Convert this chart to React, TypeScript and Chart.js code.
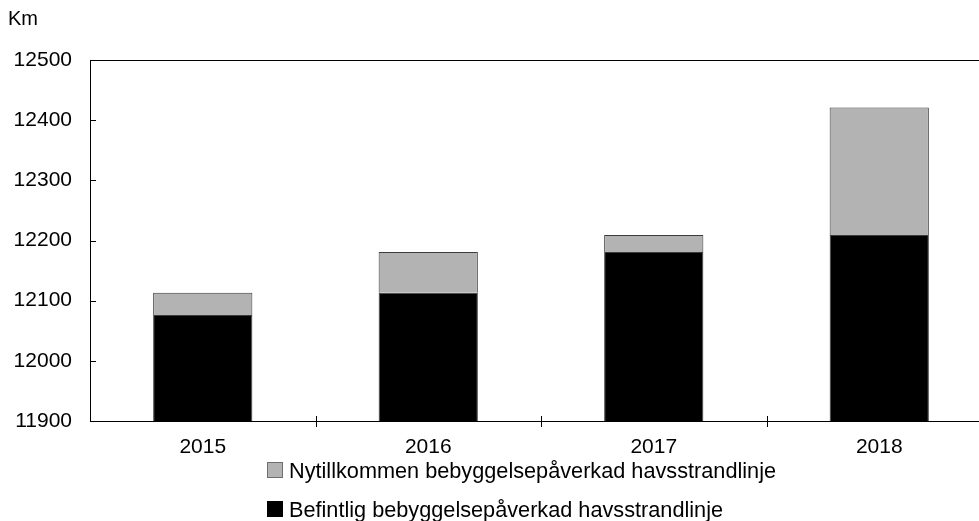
import React, { useEffect, useRef } from "react";
import { Chart, registerables } from "chart.js";

Chart.register(...registerables);

const years = ["2015", "2016", "2017", "2018"];
const befintlig = [12076, 12113, 12181, 12209];
const nytillkommen = [37, 68, 28, 212];
const seriesNames = [
  "Nytillkommen bebyggelsepåverkad havsstrandlinje",
  "Befintlig bebyggelsepåverkad havsstrandlinje",
];
const yMin = 11900;
const yMax = 12500;
const yStep = 100;
const unitLabel = "Km";

const FONT = "'Liberation Sans', Arial, sans-serif";
const FS = 21;

const decorPlugin = {
  id: "decor",
  afterDraw(chart: any) {
    const ctx = chart.ctx;
    const area = chart.chartArea;
    const ys = chart.scales.y;
    const xs = chart.scales.x;
    ctx.save();
    ctx.strokeStyle = "#000";
    ctx.lineWidth = 1;
    // top frame line
    ctx.beginPath();
    ctx.moveTo(area.left, Math.round(area.top) + 0.5);
    ctx.lineTo(area.right, Math.round(area.top) + 0.5);
    ctx.stroke();
    // y ticks inward
    ys.ticks.forEach((t: any) => {
      const y = Math.round(ys.getPixelForValue(t.value)) + 0.5;
      ctx.beginPath();
      ctx.moveTo(area.left, y);
      ctx.lineTo(area.left + 6, y);
      ctx.stroke();
    });
    // x ticks crossing at category boundaries
    const n = xs.ticks.length;
    for (let i = 1; i < n; i++) {
      const x = Math.round((xs.getPixelForTick(i - 1) + xs.getPixelForTick(i)) / 2) + 0.5;
      ctx.beginPath();
      ctx.moveTo(x, area.bottom - 5);
      ctx.lineTo(x, area.bottom + 6);
      ctx.stroke();
    }
    // unit label
    ctx.fillStyle = "#000";
    ctx.font = `20px ${FONT}`;
    ctx.textBaseline = "middle";
    ctx.textAlign = "left";
    ctx.fillText(unitLabel, 8, 19);
    // legend
    const items = [
      { text: seriesNames[0], fill: "#b3b3b3", stroke: "#6e6e6e" },
      { text: seriesNames[1], fill: "#000", stroke: "#000" },
    ];
    const lx = 267;
    const rows = [470, 509];
    ctx.font = `21.7px ${FONT}`;
    items.forEach((it, i) => {
      const cy = rows[i];
      ctx.fillStyle = it.fill;
      ctx.fillRect(lx, cy - 8, 16, 16);
      ctx.strokeStyle = it.stroke;
      ctx.strokeRect(lx + 0.5, cy - 7.5, 15, 15);
      ctx.fillStyle = "#000";
      ctx.fillText(it.text, lx + 22, cy + 2);
    });
    ctx.restore();
  },
};

export default function App() {
  const ref = useRef<HTMLCanvasElement>(null);
  useEffect(() => {
    if (!ref.current) return;
    const chart = new Chart(ref.current, {
      type: "bar",
      data: {
        labels: years,
        datasets: [
          {
            label: seriesNames[1],
            data: befintlig,
            backgroundColor: "#000000",
            borderColor: "#3c3c3c",
            borderWidth: 1,
            barPercentage: 0.44,
            categoryPercentage: 1,
          },
          {
            label: seriesNames[0],
            data: nytillkommen,
            backgroundColor: "#b3b3b3",
            borderColor: "#3c3c3c",
            borderWidth: 1,
            barPercentage: 0.44,
            categoryPercentage: 1,
          },
        ],
      },
      options: {
        responsive: false,
        animation: false,
        devicePixelRatio: 1,
        layout: { padding: { top: 60, left: 0, right: 0, bottom: 0 } },
        plugins: {
          legend: { display: false },
          tooltip: { enabled: false },
        },
        scales: {
          x: {
            stacked: true,
            grid: { display: false, drawTicks: false },
            border: { display: true, color: "#000", width: 1 },
            ticks: {
              color: "#000",
              font: { family: FONT, size: FS },
              padding: 14,
              maxRotation: 0,
            },
            afterFit(scale: any) {
              scale.height = 100;
            },
          },
          y: {
            stacked: true,
            min: yMin,
            max: yMax,
            grid: { display: false, drawTicks: false },
            border: { display: true, color: "#000", width: 1 },
            ticks: {
              stepSize: yStep,
              color: "#000",
              font: { family: FONT, size: FS },
              padding: 18,
              callback: (v: any) => String(v),
            },
            afterFit(scale: any) {
              scale.width = 90;
            },
          },
        },
      },
      plugins: [decorPlugin],
    });
    return () => chart.destroy();
  }, []);
  return (
    <div
      style={{
        position: "absolute",
        left: 0,
        top: 0,
        width: 979,
        height: 521,
        overflow: "hidden",
        background: "#fff",
      }}
    >
      <canvas ref={ref} width={992} height={521} style={{ width: 992, height: 521 }} />
    </div>
  );
}
